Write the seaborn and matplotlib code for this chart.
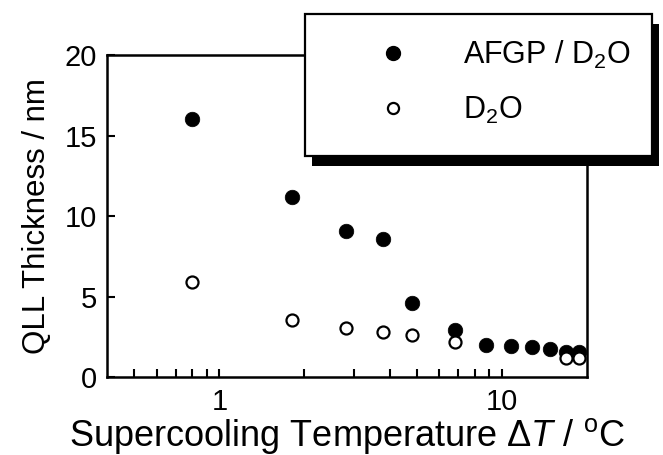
import pandas as pd
import matplotlib
matplotlib.use('Agg')
import matplotlib.pyplot as plt
import seaborn as sns
from matplotlib.patches import Rectangle
from matplotlib.lines import Line2D
from matplotlib import patheffects
from matplotlib.ticker import FixedLocator, FixedFormatter, NullFormatter

# supercooling temperature (degC) and QLL thickness (nm)
dt_afgp = [0.8, 1.8, 2.8, 3.8, 4.8, 6.8, 8.8, 10.8, 12.8, 14.8, 16.8, 18.8]
qll_afgp = [16.0, 11.15, 9.1, 8.55, 4.6, 2.95, 2.0, 1.95, 1.88, 1.72, 1.57, 1.57]
dt_d2o = [0.8, 1.8, 2.8, 3.8, 4.8, 6.8, 16.8, 18.8]
qll_d2o = [5.9, 3.55, 3.05, 2.8, 2.6, 2.2, 1.15, 1.15]

major_x = [1, 10]
minor_x = [0.5, 0.6, 0.7, 0.8, 0.9, 2, 3, 4, 5, 6, 7, 8, 9]
y_ticks = [0, 5, 10, 15, 20]

sns.set_style('ticks')
plt.rcParams['font.family'] = ['Liberation Sans', 'DejaVu Sans']
plt.rcParams['mathtext.fontset'] = 'custom'
plt.rcParams['mathtext.rm'] = 'Liberation Sans'
plt.rcParams['mathtext.it'] = 'Liberation Sans:italic'
plt.rcParams['mathtext.default'] = 'regular'
plt.rcParams['text.color'] = 'black'
plt.rcParams['axes.labelcolor'] = 'black'
plt.rcParams['xtick.color'] = 'black'
plt.rcParams['ytick.color'] = 'black'

df_afgp = pd.DataFrame({'dT': dt_afgp, 'qll': qll_afgp})
df_d2o = pd.DataFrame({'dT': dt_d2o, 'qll': qll_d2o})

fig = plt.figure(figsize=(6.63, 4.55), dpi=100)
ax = fig.add_axes([0.1614, 0.1714, 0.7240, 0.7077])

sns.scatterplot(data=df_afgp, x='dT', y='qll', ax=ax, s=110, color='black',
                edgecolor='black', linewidth=0.5, zorder=3, legend=False)
sns.scatterplot(data=df_d2o, x='dT', y='qll', ax=ax, s=75, facecolor='white',
                edgecolor='black', linewidth=1.6, zorder=4, legend=False)

ax.set_xscale('log')
ax.set_xlim(0.4, 20)
ax.set_ylim(0, 20)
ax.xaxis.set_major_locator(FixedLocator(major_x))
ax.xaxis.set_major_formatter(FixedFormatter([str(v) for v in major_x]))
ax.xaxis.set_minor_locator(FixedLocator(minor_x))
ax.xaxis.set_minor_formatter(NullFormatter())
ax.set_yticks(y_ticks)

ax.tick_params(which='both', direction='in', length=6, width=1.5, labelsize=21,
               bottom=True, left=True, top=False, right=False)
ax.tick_params(axis='x', pad=8)
ax.tick_params(axis='y', pad=7)
for sp in ax.spines.values():
    sp.set_visible(True)
    sp.set_linewidth(1.8)
    sp.set_color('black')

ax.set_xlabel(r'Supercooling Temperature $\mathit{\Delta T}$ / $^{o}$C', fontsize=26, labelpad=0)
ax.set_ylabel('QLL Thickness / nm', fontsize=22.5, labelpad=9)

# legend box with heavy drop shadow, sitting over the top-right corner
box = Rectangle((0.460, 0.657), 0.523, 0.312, transform=fig.transFigure,
                facecolor='white', edgecolor='black', linewidth=1.6, zorder=5)
box.set_path_effects([patheffects.SimplePatchShadow(offset=(5, -7), shadow_rgbFace='black', alpha=1),
                      patheffects.Normal()])
fig.add_artist(box)

handles = [Line2D([], [], linestyle='none', marker='o', markersize=10, color='black'),
           Line2D([], [], linestyle='none', marker='o', markersize=8, markerfacecolor='white',
                  markeredgecolor='black', markeredgewidth=1.6)]
leg = fig.legend(handles, ['AFGP / D$_2$O', 'D$_2$O'], loc='upper left',
                 bbox_to_anchor=(0.546, 0.949), frameon=False, fontsize=22,
                 handlelength=1.0, handletextpad=1.8, labelspacing=0.78, borderpad=0)
leg.set_zorder(6)

fig.savefig('out.png', dpi=100)
